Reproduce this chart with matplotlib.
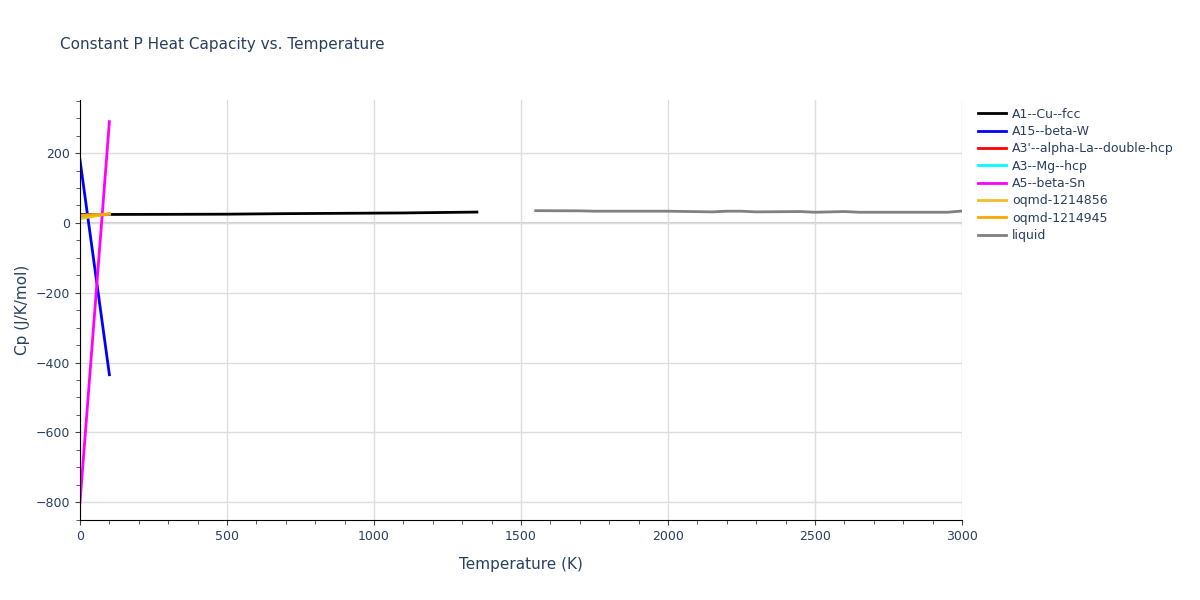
import matplotlib
matplotlib.use("Agg")
import matplotlib.pyplot as plt

cu_T = [0, 100, 300, 500, 700, 900, 1100, 1200, 1350]
cu_cp = [24, 24.2, 24.5, 25, 26.5, 27.5, 28.5, 29.5, 31]
w_T = [0, 100]; w_cp = [180, -435]
sn_T = [0, 100]; sn_cp = [-800, 290]
o1_T = [0, 100]; o1_cp = [12, 27]
o2_T = [0, 100]; o2_cp = [22, 25]
la_T = [0, 100]; la_cp = [20, 24]
mg_T = [0, 100]; mg_cp = [21, 25]
liq_T = [1550, 1700, 1750, 1900, 2000, 2150, 2200, 2250, 2300, 2450, 2500, 2600, 2650, 2800, 2950, 3000]
liq_cp = [35, 34.5, 33.5, 33.5, 33.5, 31.5, 33.5, 33.5, 31.5, 32.5, 30.5, 32.5, 30.5, 30.5, 30.5, 34]

fig = plt.figure(figsize=(12, 6), dpi=100)
ax = fig.add_axes([80/1200, 80/600, 882/1200, 420/600])
tc = '#2a3f5f'
series = [
    ("A1--Cu--fcc", cu_T, cu_cp, 'black'),
    ("A15--beta-W", w_T, w_cp, 'blue'),
    ("A3'--alpha-La--double-hcp", la_T, la_cp, 'red'),
    ("A3--Mg--hcp", mg_T, mg_cp, 'cyan'),
    ("A5--beta-Sn", sn_T, sn_cp, 'magenta'),
    ("oqmd-1214856", o1_T, o1_cp, '#f0c020'),
    ("oqmd-1214945", o2_T, o2_cp, 'orange'),
    ("liquid", liq_T, liq_cp, 'gray'),
]
for name, x, y, c in series:
    ax.plot(x, y, color=c, lw=2, label=name)
ax.axhline(0, color='#d0d0d0', lw=1.5, zorder=0)
ax.set_xlim(0, 3000)
ax.set_ylim(-851, 352)
ax.set_xticks([0, 500, 1000, 1500, 2000, 2500, 3000])
ax.set_yticks([-800, -600, -400, -200, 0, 200])
ax.grid(color='#dddddd', lw=1)
ax.set_axisbelow(True)
for s in ['top', 'right']:
    ax.spines[s].set_visible(False)
for s in ['left', 'bottom']:
    ax.spines[s].set_color('black')
ax.minorticks_on()
ax.tick_params(which='both', colors='#444444', labelcolor=tc, labelsize=9)
ax.tick_params(which='minor', length=3)
ax.set_xlabel("Temperature (K)", color=tc, fontsize=11, labelpad=10)
ax.set_ylabel("Cp (J/K/mol)", color=tc, fontsize=11)
fig.text(60/1200, 1-45/600, "Constant P Heat Capacity vs. Temperature", color=tc, fontsize=11, va='center')
leg = ax.legend(loc='upper left', bbox_to_anchor=(1.01, 1.0), frameon=False, fontsize=9,
                handlelength=2.2, handletextpad=0.5, labelspacing=0.35, borderaxespad=0.2)
for t in leg.get_texts():
    t.set_color(tc)
fig.savefig("out.png")
